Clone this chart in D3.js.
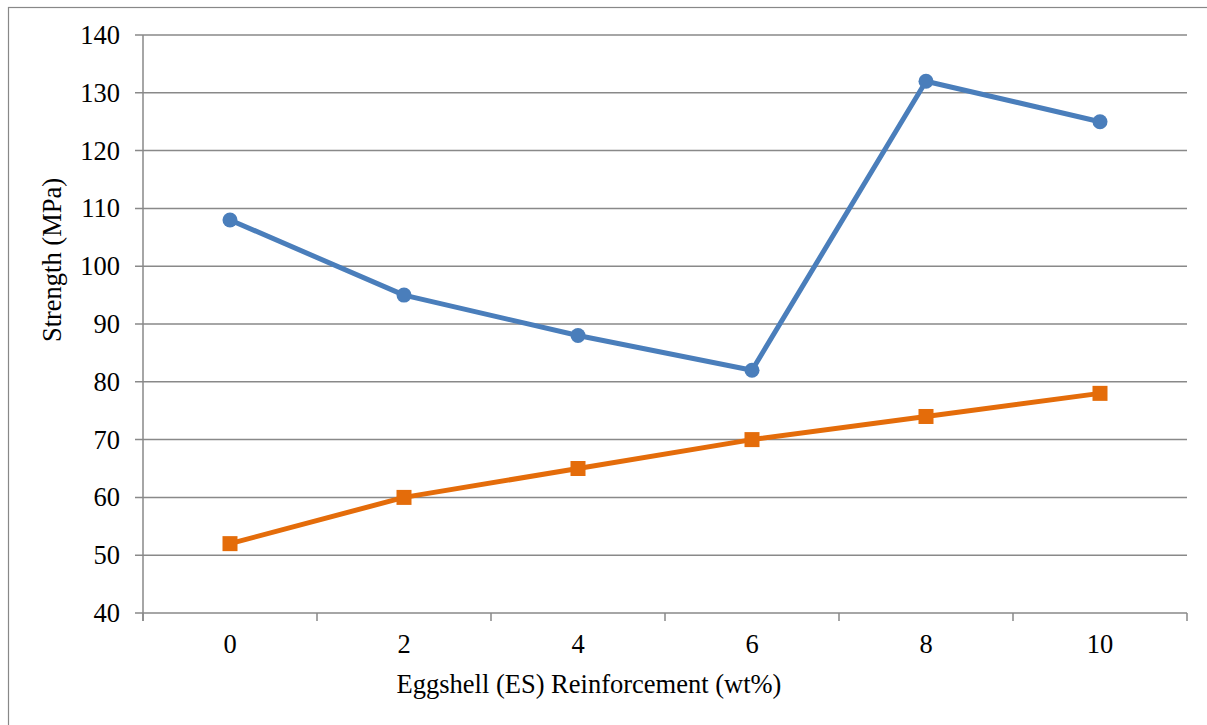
<!DOCTYPE html>
<html><head><meta charset="utf-8">
<script src="https://cdn.jsdelivr.net/npm/d3@7"></script>
<style>body{margin:0;background:#fff;} svg{display:block;} text{font-family:"Liberation Serif","Times New Roman","DejaVu Serif",serif;}</style>
</head><body>
<svg id="c" width="1207" height="725"></svg>
<script>
const categories = ["0","2","4","6","8","10"];
const seriesA = [108, 95, 88, 82, 132, 125];
const seriesB = [52, 60, 65, 70, 74, 78];
const yTicks = [40,50,60,70,80,90,100,110,120,130,140];

const svg = d3.select("#c");
const L = 143, R = 1187, T = 35, B = 613;
const fs = 26.5;

svg.append("rect").attr("x",8.5).attr("y",7.5).attr("width",1220).attr("height",740)
  .attr("fill","none").attr("stroke","#888").attr("stroke-width",1.2);

const x = d3.scaleBand().domain(categories).range([L,R]);
const y = d3.scaleLinear().domain([40,140]).range([B,T]);

// gridlines
svg.append("g").selectAll("line").data(yTicks).join("line")
  .attr("x1",L-8).attr("x2",R).attr("y1",d=>y(d)).attr("y2",d=>y(d))
  .attr("stroke","#898989").attr("stroke-width",1.5);

// y axis line
svg.append("line").attr("x1",L).attr("x2",L).attr("y1",T).attr("y2",B+8)
  .attr("stroke","#898989").attr("stroke-width",1.5);

// x axis ticks
const xt = categories.map(c=>x(c)).concat([R]);
svg.append("g").selectAll("line").data(xt).join("line")
  .attr("x1",d=>d).attr("x2",d=>d).attr("y1",B).attr("y2",B+8)
  .attr("stroke","#898989").attr("stroke-width",1.5);

// y labels
svg.append("g").selectAll("text").data(yTicks).join("text")
  .attr("x",120).attr("y",d=>y(d)+9).attr("text-anchor","end")
  .attr("font-size",fs).text(d=>d);

// x labels
svg.append("g").selectAll("text").data(categories).join("text")
  .attr("x",d=>x(d)+x.bandwidth()/2).attr("y",653).attr("text-anchor","middle")
  .attr("font-size",fs).text(d=>d);

// axis titles
svg.append("text").attr("transform","translate(61,260) rotate(-90)").attr("text-anchor","middle")
  .attr("font-size",fs).text("Strength (MPa)");
svg.append("text").attr("x",589).attr("y",693).attr("text-anchor","middle")
  .attr("font-size",fs).text("Eggshell (ES) Reinforcement (wt%)");

const cx = c => x(c)+x.bandwidth()/2;
const line = d3.line().x((d,i)=>cx(categories[i])).y(d=>y(d));

const blue = "#4a7ebb", orange = "#e46c0a";
svg.append("path").datum(seriesA).attr("d",line).attr("fill","none")
  .attr("stroke",blue).attr("stroke-width",5).attr("stroke-linejoin","round");
svg.append("g").selectAll("circle").data(seriesA).join("circle")
  .attr("cx",(d,i)=>cx(categories[i])).attr("cy",d=>y(d)).attr("r",7.5).attr("fill",blue);

svg.append("path").datum(seriesB).attr("d",line).attr("fill","none")
  .attr("stroke",orange).attr("stroke-width",5).attr("stroke-linejoin","round");
svg.append("g").selectAll("rect").data(seriesB).join("rect")
  .attr("x",(d,i)=>cx(categories[i])-7.5).attr("y",d=>y(d)-7.5).attr("width",15).attr("height",15).attr("fill",orange);
</script>
</body></html>
